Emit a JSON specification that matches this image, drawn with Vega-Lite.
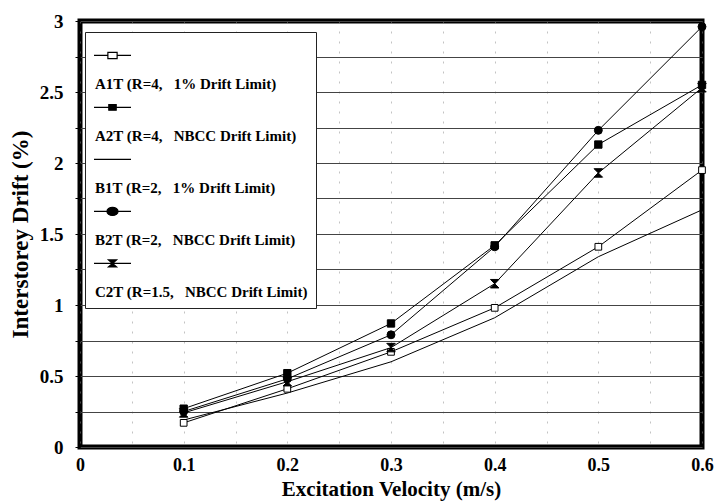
{
  "$schema": "https://vega.github.io/schema/vega-lite/v6.json",
  "width": 622,
  "height": 426,
  "autosize": {"type": "none"},
  "padding": {"left": 80, "top": 21, "right": 14, "bottom": 57},
  "background": "white",
  "config": {
    "view": {"stroke": "black", "strokeWidth": 5},
    "font": "Liberation Serif",
    "axis": {
      "labelFont": "Liberation Serif",
      "labelFontWeight": "bold",
      "labelFontSize": 19,
      "labelColor": "black",
      "titleFont": "Liberation Serif",
      "titleFontWeight": "bold",
      "titleFontSize": 21,
      "titleColor": "black",
      "domain": false,
      "tickColor": "black"
    }
  },
  "data": {
    "values": [
      {"series": "A1T (R=4,\u00a0\u00a0 1% Drift Limit)", "v": 0.1, "drift": 0.17},
      {"series": "A1T (R=4,\u00a0\u00a0 1% Drift Limit)", "v": 0.2, "drift": 0.41},
      {"series": "A1T (R=4,\u00a0\u00a0 1% Drift Limit)", "v": 0.3, "drift": 0.67},
      {"series": "A1T (R=4,\u00a0\u00a0 1% Drift Limit)", "v": 0.4, "drift": 0.98},
      {"series": "A1T (R=4,\u00a0\u00a0 1% Drift Limit)", "v": 0.5, "drift": 1.41},
      {"series": "A1T (R=4,\u00a0\u00a0 1% Drift Limit)", "v": 0.6, "drift": 1.95},
      {"series": "A2T (R=4,\u00a0\u00a0 NBCC Drift Limit)", "v": 0.1, "drift": 0.27},
      {"series": "A2T (R=4,\u00a0\u00a0 NBCC Drift Limit)", "v": 0.2, "drift": 0.52},
      {"series": "A2T (R=4,\u00a0\u00a0 NBCC Drift Limit)", "v": 0.3, "drift": 0.87},
      {"series": "A2T (R=4,\u00a0\u00a0 NBCC Drift Limit)", "v": 0.4, "drift": 1.42},
      {"series": "A2T (R=4,\u00a0\u00a0 NBCC Drift Limit)", "v": 0.5, "drift": 2.13},
      {"series": "A2T (R=4,\u00a0\u00a0 NBCC Drift Limit)", "v": 0.6, "drift": 2.55},
      {"series": "B1T (R=2,\u00a0\u00a0 1% Drift Limit)", "v": 0.1, "drift": 0.19},
      {"series": "B1T (R=2,\u00a0\u00a0 1% Drift Limit)", "v": 0.2, "drift": 0.38},
      {"series": "B1T (R=2,\u00a0\u00a0 1% Drift Limit)", "v": 0.3, "drift": 0.60},
      {"series": "B1T (R=2,\u00a0\u00a0 1% Drift Limit)", "v": 0.4, "drift": 0.91},
      {"series": "B1T (R=2,\u00a0\u00a0 1% Drift Limit)", "v": 0.5, "drift": 1.34},
      {"series": "B1T (R=2,\u00a0\u00a0 1% Drift Limit)", "v": 0.6, "drift": 1.67},
      {"series": "B2T (R=2,\u00a0\u00a0 NBCC Drift Limit)", "v": 0.1, "drift": 0.25},
      {"series": "B2T (R=2,\u00a0\u00a0 NBCC Drift Limit)", "v": 0.2, "drift": 0.48},
      {"series": "B2T (R=2,\u00a0\u00a0 NBCC Drift Limit)", "v": 0.3, "drift": 0.79},
      {"series": "B2T (R=2,\u00a0\u00a0 NBCC Drift Limit)", "v": 0.4, "drift": 1.41},
      {"series": "B2T (R=2,\u00a0\u00a0 NBCC Drift Limit)", "v": 0.5, "drift": 2.23},
      {"series": "B2T (R=2,\u00a0\u00a0 NBCC Drift Limit)", "v": 0.6, "drift": 2.96},
      {"series": "C2T (R=1.5,\u00a0\u00a0 NBCC Drift Limit)", "v": 0.1, "drift": 0.24},
      {"series": "C2T (R=1.5,\u00a0\u00a0 NBCC Drift Limit)", "v": 0.2, "drift": 0.46},
      {"series": "C2T (R=1.5,\u00a0\u00a0 NBCC Drift Limit)", "v": 0.3, "drift": 0.70},
      {"series": "C2T (R=1.5,\u00a0\u00a0 NBCC Drift Limit)", "v": 0.4, "drift": 1.15},
      {"series": "C2T (R=1.5,\u00a0\u00a0 NBCC Drift Limit)", "v": 0.5, "drift": 1.93},
      {"series": "C2T (R=1.5,\u00a0\u00a0 NBCC Drift Limit)", "v": 0.6, "drift": 2.53}
    ]
  },
  "encoding": {
    "x": {
      "field": "v", "type": "quantitative",
      "scale": {"domain": [0, 0.6], "nice": false},
      "axis": {
        "title": "Excitation Velocity (m/s)",
        "labelFontSize": 18,
        "values": [0, 0.05, 0.1, 0.15, 0.2, 0.25, 0.3, 0.35, 0.4, 0.45, 0.5, 0.55, 0.6],
        "labelExpr": "round(datum.value*100) % 10 == 0 ? toString(round(datum.value*10)/10) : ''",
        "grid": true, "gridColor": "#888", "gridDash": [2, 8], "gridWidth": 1, "gridOpacity": 0.5,
        "ticks": false, "labelPadding": 9, "titlePadding": 4,
        "labelFlush": false
      }
    },
    "y": {
      "field": "drift", "type": "quantitative",
      "scale": {"domain": [0, 3], "nice": false},
      "axis": {
        "title": "Interstorey Drift (%)",
        "titleFontSize": 23,
        "values": [0, 0.25, 0.5, 0.75, 1, 1.25, 1.5, 1.75, 2, 2.25, 2.5, 2.75, 3],
        "labelExpr": "round(datum.value*100) % 50 == 0 ? toString(round(datum.value*10)/10) : ''",
        "grid": true, "gridColor": "#444", "gridWidth": 1,
        "ticks": true, "tickSize": 5, "labelPadding": 12, "titlePadding": 7,
        "labelFlush": false
      }
    }
  },
  "layer": [
    {
      "mark": {"type": "line", "color": "black", "strokeWidth": 1},
      "encoding": {"detail": {"field": "series"}, "order": {"field": "v"}}
    },
    {
      "transform": [{"filter": "indexof(datum.series, 'B1T') != 0"}],
      "mark": {"type": "point", "stroke": "black", "strokeWidth": 1, "opacity": 1, "fillOpacity": 1},
      "encoding": {
        "shape": {
          "field": "series", "type": "nominal", "legend": null,
          "scale": {
            "domain": ["A1T (R=4,\u00a0\u00a0 1% Drift Limit)", "A2T (R=4,\u00a0\u00a0 NBCC Drift Limit)", "B2T (R=2,\u00a0\u00a0 NBCC Drift Limit)", "C2T (R=1.5,\u00a0\u00a0 NBCC Drift Limit)"],
            "range": ["square", "square", "circle", "M-1,-1L1,-1L-1,1L1,1Z"]
          }
        },
        "fill": {
          "field": "series", "type": "nominal", "legend": null,
          "scale": {
            "domain": ["A1T (R=4,\u00a0\u00a0 1% Drift Limit)", "A2T (R=4,\u00a0\u00a0 NBCC Drift Limit)", "B2T (R=2,\u00a0\u00a0 NBCC Drift Limit)", "C2T (R=1.5,\u00a0\u00a0 NBCC Drift Limit)"],
            "range": ["white", "black", "black", "black"]
          }
        },
        "size": {
          "field": "series", "type": "nominal", "legend": null,
          "scale": {
            "domain": ["A1T (R=4,\u00a0\u00a0 1% Drift Limit)", "A2T (R=4,\u00a0\u00a0 NBCC Drift Limit)", "B2T (R=2,\u00a0\u00a0 NBCC Drift Limit)", "C2T (R=1.5,\u00a0\u00a0 NBCC Drift Limit)"],
            "range": [45, 72, 140, 72]
          }
        }
      }
    },
    {
      "mark": {"type": "point", "strokeWidth": 1.2, "opacity": 0},
      "encoding": {
        "shape": {
          "field": "series", "type": "nominal",
          "scale": {
            "domain": ["A1T (R=4,\u00a0\u00a0 1% Drift Limit)", "A2T (R=4,\u00a0\u00a0 NBCC Drift Limit)", "B1T (R=2,\u00a0\u00a0 1% Drift Limit)", "B2T (R=2,\u00a0\u00a0 NBCC Drift Limit)", "C2T (R=1.5,\u00a0\u00a0 NBCC Drift Limit)"],
            "range": [
              "M-1,-0.22H-0.25M0.25,-0.22H1M-0.25,-0.39H0.25V-0.05H-0.25Z",
              "M-1,-0.22H1M-0.2,-0.37H0.2V-0.07H-0.2Z",
              "M-1,-0.22H1",
              "M-1,-0.22H1M-0.3,-0.22A0.3,0.22 0 1,0 0.3,-0.22A0.3,0.22 0 1,0 -0.3,-0.22Z",
              "M-1,-0.22H1M-0.22,-0.41L0.22,-0.41L-0.22,-0.03L0.22,-0.03Z"
            ]
          },
          "legend": {
            "title": null,
            "orient": "none",
            "legendX": 5,
            "legendY": 11,
            "padding": 8,
            "strokeColor": "#222",
            "fillColor": "white",
            "symbolSize": 1369,
            "symbolOpacity": 1,
            "symbolStrokeWidth": 1.2,
            "labelFont": "Liberation Serif",
            "labelFontWeight": "bold",
            "labelFontSize": 15,
            "labelColor": "black",
            "labelLimit": 400,
            "labelBaseline": "top",
            "labelOffset": -37,
            "labelExpr": "['', datum.label]",
            "rowPadding": -6
          }
        },
        "fill": {
          "field": "series", "type": "nominal",
          "scale": {
            "domain": ["A1T (R=4,\u00a0\u00a0 1% Drift Limit)", "A2T (R=4,\u00a0\u00a0 NBCC Drift Limit)", "B1T (R=2,\u00a0\u00a0 1% Drift Limit)", "B2T (R=2,\u00a0\u00a0 NBCC Drift Limit)", "C2T (R=1.5,\u00a0\u00a0 NBCC Drift Limit)"],
            "range": ["white", "black", "black", "black", "black"]
          }
        },
        "stroke": {
          "field": "series", "type": "nominal",
          "scale": {
            "domain": ["A1T (R=4,\u00a0\u00a0 1% Drift Limit)", "A2T (R=4,\u00a0\u00a0 NBCC Drift Limit)", "B1T (R=2,\u00a0\u00a0 1% Drift Limit)", "B2T (R=2,\u00a0\u00a0 NBCC Drift Limit)", "C2T (R=1.5,\u00a0\u00a0 NBCC Drift Limit)"],
            "range": ["black", "black", "black", "black", "black"]
          }
        }
      }
    }
  ],
  "resolve": {"scale": {"shape": "independent", "fill": "independent", "size": "independent", "stroke": "independent"}, "legend": {"shape": "independent", "fill": "independent"}}
}
